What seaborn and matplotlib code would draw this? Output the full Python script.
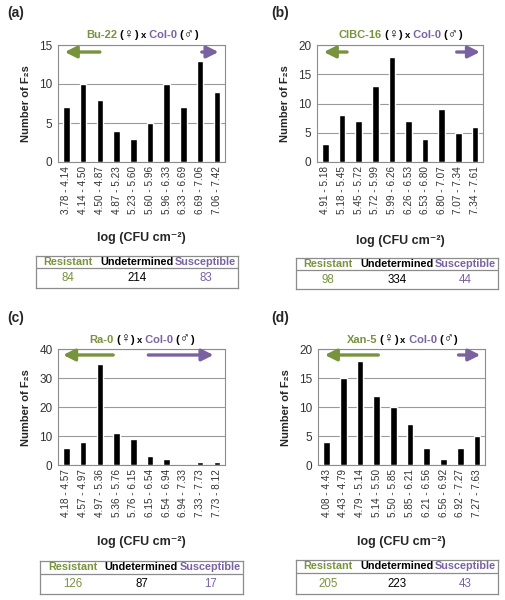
import matplotlib
matplotlib.use("Agg")
import matplotlib.pyplot as plt
import seaborn as sns
import pandas as pd
from matplotlib.offsetbox import TextArea, HPacker, AnnotationBbox

sns.set_style("white")
plt.rcParams['font.family'] = ['Liberation Sans', 'DejaVu Sans']

GREEN = "#77933C"
PURPLE = "#7A62A0"

# ---- data ----
parents = ["Bu-22", "CIBC-16", "Ra-0", "Xan-5"]

bins_a = ["3.78 - 4.14", "4.14 - 4.50", "4.50 - 4.87", "4.87 - 5.23", "5.23 - 5.60",
          "5.60 - 5.96", "5.96 - 6.33", "6.33 - 6.69", "6.69 - 7.06", "7.06 - 7.42"]
counts_a = [7, 10, 8, 4, 3, 5, 10, 7, 13, 9]

bins_b = ["4.91 - 5.18", "5.18 - 5.45", "5.45 - 5.72", "5.72 - 5.99", "5.99 - 6.26",
          "6.26 - 6.53", "6.53 - 6.80", "6.80 - 7.07", "7.07 - 7.34", "7.34 - 7.61"]
counts_b = [3, 8, 7, 13, 18, 7, 4, 9, 5, 6]

bins_c = ["4.18 - 4.57", "4.57 - 4.97", "4.97 - 5.36", "5.36 - 5.76", "5.76 - 6.15",
          "6.15 - 6.54", "6.54 - 6.94", "6.94 - 7.33", "7.33 - 7.73", "7.73 - 8.12"]
counts_c = [6, 8, 35, 11, 9, 3, 2, 0, 1, 1]

bins_d = ["4.08 - 4.43", "4.43 - 4.79", "4.79 - 5.14", "5.14 - 5.50", "5.50 - 5.85",
          "5.85 - 6.21", "6.21 - 6.56", "6.56 - 6.92", "6.92 - 7.27", "7.27 - 7.63"]
counts_d = [4, 15, 18, 12, 10, 7, 3, 1, 3, 5]

resistant = [84, 98, 126, 205]
undetermined = [214, 334, 87, 223]
susceptible = [83, 44, 17, 43]

ymax = [15, 20, 40, 20]
ystep = [5, 5, 10, 5]

# ---- layout (figure fractions) ----
axes_pos = [[0.115, 0.730, 0.331, 0.195],
            [0.628, 0.730, 0.329, 0.195],
            [0.115, 0.225, 0.331, 0.193],
            [0.630, 0.225, 0.331, 0.193]]
table_pos = [[0.071, 0.520, 0.400, 0.053],
             [0.586, 0.518, 0.400, 0.052],
             [0.079, 0.010, 0.402, 0.055],
             [0.586, 0.010, 0.400, 0.057]]
xlabel_y = [0.603, 0.598, 0.097, 0.097]
letter_pos = [(0.014, 0.978), (0.537, 0.978), (0.014, 0.470), (0.537, 0.470)]
arrows = [((0.25, 0.04), (0.86, 0.96), 0.94),
          ((0.18, 0.04), (0.84, 0.98), 0.94),
          ((0.33, 0.03), (0.54, 0.93), 0.95),
          ((0.36, 0.04), (0.84, 0.97), 0.95)]

all_bins = [bins_a, bins_b, bins_c, bins_d]
all_counts = [counts_a, counts_b, counts_c, counts_d]

fig = plt.figure(figsize=(5.05, 6.0), dpi=100)

for i in range(4):
    ax = fig.add_axes(axes_pos[i])
    df = pd.DataFrame({"bin": all_bins[i], "n": all_counts[i]})
    sns.barplot(data=df, x="bin", y="n", color="black", width=0.4,
                saturation=1, ax=ax, zorder=3)
    ax.set_ylim(0, ymax[i])
    ax.set_yticks(range(0, ymax[i] + 1, ystep[i]))
    ax.yaxis.grid(True, color="#9a9a9a", lw=0.8, zorder=0)
    ax.set_axisbelow(True)
    ax.set_xlim(-0.5, 9.5)
    ax.tick_params(axis="x", labelrotation=90, labelsize=7.2, pad=3, length=0,
                   labelcolor="#333333")
    ax.tick_params(axis="y", labelsize=8.5, length=0, pad=4, labelcolor="#333333")
    for s in ax.spines.values():
        s.set_color("#8c8c8c")
        s.set_linewidth(0.8)
    ax.set_xlabel("")
    ax.set_ylabel("Number of F₂s", fontsize=8, fontweight="bold", labelpad=6)

    # arrows
    (gt, gh), (pt, ph), ay = arrows[i]
    ax.annotate("", xy=(gh, ay), xytext=(gt, ay), xycoords="axes fraction",
                arrowprops=dict(arrowstyle="-|>,head_length=0.7,head_width=0.35",
                                color=GREEN, lw=2.4, shrinkA=0, shrinkB=0))
    ax.annotate("", xy=(ph, ay), xytext=(pt, ay), xycoords="axes fraction",
                arrowprops=dict(arrowstyle="-|>,head_length=0.7,head_width=0.35",
                                color=PURPLE, lw=2.4, shrinkA=0, shrinkB=0))

    # coloured title
    pieces = [(parents[i], GREEN, 8), (" (", "black", 8), ("♀", "black", 9.5),
              (") ", "black", 8), ("x", "black", 6.8), (" Col-0", PURPLE, 8),
              (" (", "black", 8), ("♂", "black", 9.5), (")", "black", 8)]
    areas = []
    for txt, col, fs in pieces:
        weight = "normal" if txt in ("♀", "♂") else "bold"
        areas.append(TextArea(txt, textprops=dict(color=col, fontsize=fs,
                                                  fontweight=weight)))
    box = HPacker(children=areas, align="baseline", pad=0, sep=0)
    ab = AnnotationBbox(box, (0.5, 1.03), xycoords="axes fraction",
                        box_alignment=(0.5, 0), frameon=False, pad=0)
    ax.add_artist(ab)

    # x label
    cx = axes_pos[i][0] + axes_pos[i][2] / 2
    fig.text(cx, xlabel_y[i], "log (CFU cm⁻²)", ha="center", va="center",
             fontsize=9, fontweight="bold")

    # panel letter
    fig.text(letter_pos[i][0], letter_pos[i][1], "(" + "abcd"[i] + ")",
             fontsize=10, fontweight="bold", va="center")

    # summary table
    tax = fig.add_axes(table_pos[i])
    tax.set_xlim(0, 1)
    tax.set_ylim(0, 1)
    tax.set_xticks([])
    tax.set_yticks([])
    for s in tax.spines.values():
        s.set_color("#8c8c8c")
        s.set_linewidth(0.9)
    tax.axhline(0.62, color="#8c8c8c", lw=0.9)
    heads = [("Resistant", GREEN, 0.16), ("Undetermined", "black", 0.5),
             ("Susceptible", PURPLE, 0.84)]
    vals = [resistant[i], undetermined[i], susceptible[i]]
    for (h, col, x), v in zip(heads, vals):
        tax.text(x, 0.81, h, color=col, fontsize=7.8, fontweight="bold",
                 ha="center", va="center")
        tax.text(x, 0.3, str(v), color=col, fontsize=8.3,
                 ha="center", va="center")

fig.savefig("out.png", dpi=100)
